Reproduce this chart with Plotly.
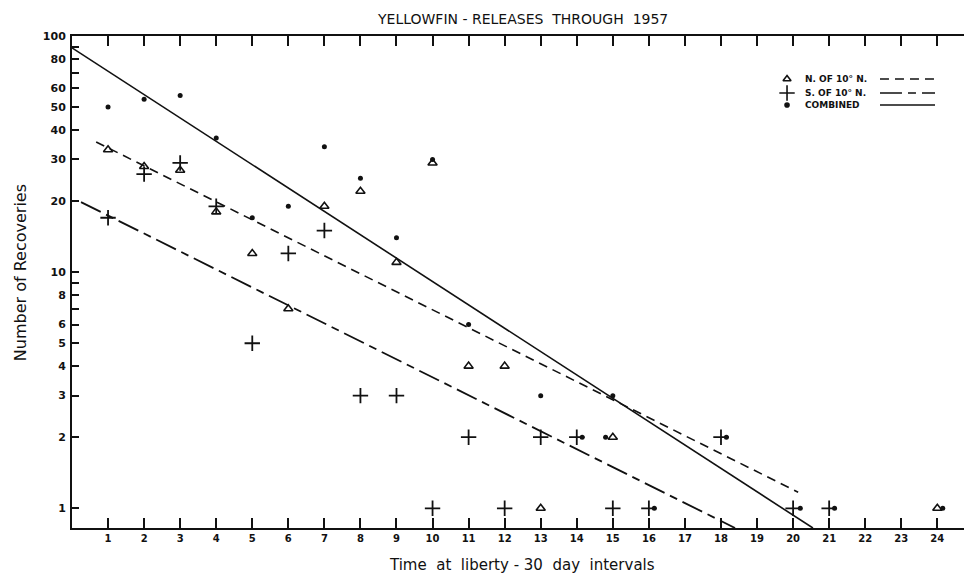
import plotly.graph_objects as go

# ---- data ----
north_x = [1, 2, 3, 4, 5, 6, 7, 8, 9, 10, 11, 12, 13, 15, 24]
north_y = [33, 28, 27, 18, 12, 7, 19, 22, 11, 29, 4, 4, 1, 2, 1]

south_x = [1, 2, 3, 4, 5, 6, 7, 8, 9, 10, 11, 12, 13, 14, 15, 16, 18, 20, 21]
south_y = [17, 26, 29, 19, 5, 12, 15, 3, 3, 1, 2, 1, 2, 2, 1, 1, 2, 1, 1]

combined_x = [1, 2, 3, 4, 5, 6, 7, 8, 9, 10, 11, 13, 14.15, 14.8, 15, 16.15, 18.15, 20.2, 21.15, 24.15]
combined_y = [50, 54, 56, 37, 17, 19, 34, 25, 14, 30, 6, 3, 2, 2, 3, 1, 2, 1, 1, 1]

# fitted lines (end points)
north_fit_x = [0.67, 20.14]
north_fit_y = [35.6, 1.17]
south_fit_x = [0.25, 18.39]
south_fit_y = [19.8, 0.825]
combined_fit_x = [0.0, 20.55]
combined_fit_y = [89.1, 0.825]

x_ticks = list(range(1, 25))
y_tickvals = [1, 2, 3, 4, 5, 6, 7, 8, 9, 10, 20, 30, 40, 50, 60, 70, 80, 90, 100]
y_ticktext = ["1", "2", "3", "4", "5", "6", "", "8", "", "10", "20", "30", "40",
              "50", "60", "", "80", "", "100"]

legend_labels = ["N. OF 10° N.", "S. OF 10° N.", "COMBINED"]

FONT = "DejaVu Sans"
BLACK = "#111111"

fig = go.Figure()

fig.add_trace(go.Scatter(x=combined_fit_x, y=combined_fit_y, mode="lines",
                         line=dict(color=BLACK, width=1.6), showlegend=False))
fig.add_trace(go.Scatter(x=north_fit_x, y=north_fit_y, mode="lines",
                         line=dict(color=BLACK, width=1.6, dash="9px,6px"), showlegend=False))
fig.add_trace(go.Scatter(x=south_fit_x, y=south_fit_y, mode="lines",
                         line=dict(color=BLACK, width=1.8, dash="22px,6px,8px,6px"), showlegend=False))

fig.add_trace(go.Scatter(x=north_x, y=north_y, mode="markers",
                         marker=dict(symbol="triangle-up-open", size=8, color=BLACK,
                                     line=dict(color=BLACK, width=1.6)),
                         showlegend=False))
fig.add_trace(go.Scatter(x=south_x, y=south_y, mode="markers",
                         marker=dict(symbol="cross-thin", size=11, color=BLACK,
                                     line=dict(color=BLACK, width=1.8)),
                         showlegend=False))
fig.add_trace(go.Scatter(x=combined_x, y=combined_y, mode="markers",
                         marker=dict(symbol="circle", size=5, color=BLACK),
                         showlegend=False))

# ---- manual legend (symbol, label, line sample) on an overlay axis ----
leg_y = [0.9126, 0.884, 0.8598]
leg_sym = ["triangle-up-open", "cross-thin", "circle"]
leg_size = [7, 11, 4]
for yy, sym, sz in zip(leg_y, leg_sym, leg_size):
    fig.add_trace(go.Scatter(x=[0.8016], y=[yy], mode="markers", xaxis="x2", yaxis="y2",
                             marker=dict(symbol=sym, size=sz, color=BLACK,
                                         line=dict(color=BLACK, width=1.6)),
                             showlegend=False, hoverinfo="skip"))
leg_dash = ["9px,6px", "22px,6px,8px,6px", "solid"]
for yy, lab, dsh in zip(leg_y, legend_labels, leg_dash):
    fig.add_annotation(x=0.8195, y=yy, xref="paper", yref="paper", text=lab,
                       showarrow=False, xanchor="left", yanchor="middle",
                       font=dict(family=FONT, size=9, color=BLACK, weight="bold"))
    fig.add_trace(go.Scatter(x=[0.9058, 0.9675], y=[yy, yy], mode="lines",
                             xaxis="x2", yaxis="y2",
                             line=dict(color=BLACK, width=1.6, dash=dsh),
                             showlegend=False, hoverinfo="skip"))

# ---- titles ----
fig.add_annotation(x=0.5045, y=1.0346, xref="paper", yref="paper",
                   text="YELLOWFIN - RELEASES  THROUGH  1957", showarrow=False,
                   xanchor="center", yanchor="middle",
                   font=dict(family=FONT, size=14, color=BLACK))
fig.add_annotation(x=0.5045, y=-0.0752, xref="paper", yref="paper",
                   text="Time  at  liberty - 30  day  intervals", showarrow=False,
                   xanchor="center", yanchor="middle",
                   font=dict(family=FONT, size=15, color=BLACK))
fig.add_annotation(x=-0.0583, y=0.52, xref="paper", yref="paper",
                   text="Number of Recoveries", showarrow=False, textangle=-90,
                   xanchor="center", yanchor="middle",
                   font=dict(family=FONT, size=16, color=BLACK))

fig.update_layout(
    width=964, height=579,
    margin=dict(l=72, r=0, t=36, b=51),
    paper_bgcolor="white", plot_bgcolor="white",
    showlegend=False,
    xaxis=dict(range=[0, 24.74], tickvals=x_ticks, ticks="inside", ticklen=10,
               tickwidth=1.6, tickcolor=BLACK, showline=True, linewidth=2,
               linecolor=BLACK, mirror="ticks", showgrid=False, zeroline=False,
               tickfont=dict(family=FONT, size=10, color=BLACK, weight="bold")),
    yaxis=dict(type="log", range=[-0.0834, 2], tickvals=y_tickvals, ticktext=y_ticktext,
               ticks="inside", ticklen=7, tickwidth=1.6, tickcolor=BLACK,
               showline=True, linewidth=2, linecolor=BLACK, showgrid=False,
               zeroline=False, ticklabelstandoff=2,
               tickfont=dict(family=FONT, size=11, color=BLACK, weight="bold")),
    xaxis2=dict(overlaying="x", range=[0, 1], visible=False),
    yaxis2=dict(overlaying="y", range=[0, 1], visible=False),
)

fig.write_html("out.html", config={"displayModeBar": False},
               post_script="document.body.style.margin='0px';document.body.style.overflow='hidden';")
